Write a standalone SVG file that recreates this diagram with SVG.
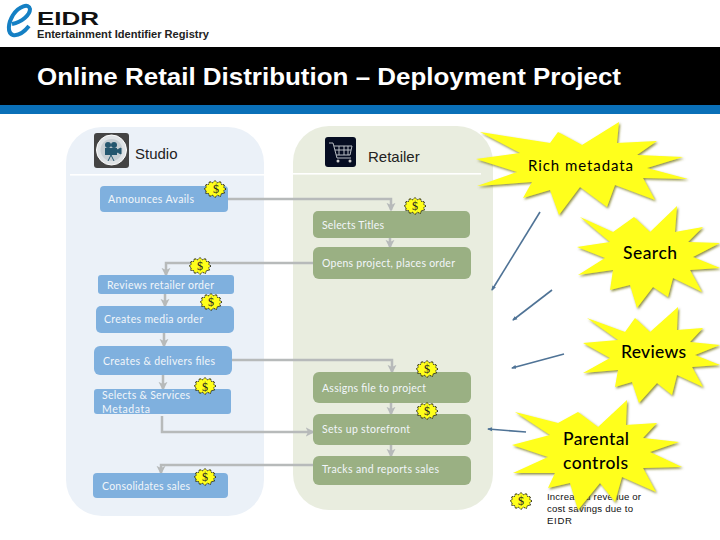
<svg xmlns="http://www.w3.org/2000/svg" width="720" height="540" viewBox="0 0 720 540">
<style>
.lbl{font-family:"Lato","Open Sans",sans-serif;font-size:10.5px;fill:#f2f6fa}
.hd{font-family:"Liberation Sans",Arial,sans-serif;font-size:15px;fill:#222}
.call{font-family:"Lato","Open Sans",sans-serif;fill:#000}
.blue{fill:#7fb0de}.green{fill:#9ab083}
.conn{fill:none;stroke:#b7baba;stroke-width:2.5}
.note{fill:none;stroke:#4f7396;stroke-width:1.6}
.burst{fill:#ffff1a;filter:url(#sh)}
.badge{fill:#ffff1a;stroke:#111;stroke-width:.9;stroke-dasharray:1.5 .6}
.dol{font-family:"Liberation Serif",serif;font-size:12px;fill:#222;text-anchor:middle}
.leg{font-family:"Liberation Sans",Arial,sans-serif;font-size:9.6px;fill:#111}
</style>
<defs>
<filter id="sh" x="-10%" y="-10%" width="120%" height="120%"><feDropShadow dx="1.2" dy="1.5" stdDeviation=".8" flood-color="#6d6d10" flood-opacity=".8"/></filter>
<marker id="ga" viewBox="0 0 10 10" refX="8" refY="5" markerWidth="3.600" markerHeight="3.800" orient="auto"><path d="M0 0L10 5L0 10L2.5 5Z" fill="#b7baba"/></marker>
<marker id="ba" viewBox="0 0 10 10" refX="8" refY="5" markerWidth="3.200" markerHeight="3.200" orient="auto"><path d="M0 1L10 5L0 9Z" fill="#4f7396"/></marker>
<polygon id="bd" points="11,0 8.7,1.7 9.5,4.2 6.4,4.6 5.5,7.4 2.3,6.3 0,8.5 -2.3,6.3 -5.5,7.4 -6.4,4.6 -9.5,4.2 -8.7,1.7 -11,0 -8.7,-1.7 -9.5,-4.2 -6.4,-4.6 -5.5,-7.4 -2.3,-6.3 0,-8.5 2.3,-6.3 5.5,-7.4 6.4,-4.6 9.5,-4.2 8.7,-1.7"/>
</defs>
<rect width="720" height="540" fill="#fff"/>
<g id="logo">
<path d="M12 24C22 22 30 15 30 9C29 3 19 6 13 15C8 23 7 33 13 35C19 36 25 31 29 26" fill="none" stroke="#1580c4" stroke-width="4"/>
<text x="37" y="25" font-family="Liberation Sans,sans-serif" font-weight="700" font-size="18" textLength="62" lengthAdjust="spacingAndGlyphs" fill="#111">EIDR</text>
<text x="37" y="38" font-family="Liberation Sans,sans-serif" font-size="10.5" font-weight="700" textLength="172" lengthAdjust="spacingAndGlyphs" fill="#222">Entertainment Identifier Registry</text>
</g>
<g id="header">
<rect y="47" width="720" height="58" fill="#000"/>
<rect y="105" width="720" height="9" fill="#0a70b8"/>
<text x="37" y="85" font-family="Liberation Sans,sans-serif" font-weight="700" font-size="24" textLength="584" lengthAdjust="spacingAndGlyphs" fill="#fff">Online Retail Distribution – Deployment Project</text>
</g>
<g id="studio-lane">
<rect x="66" y="127" width="198" height="389" rx="36" fill="#ebf1f8"/>
<rect x="70" y="174" width="194" height="1.6" fill="#fff"/>
<rect x="94" y="133" width="35" height="35" rx="3" fill="#444"/>
<circle cx="111.500" cy="150" r="15" fill="#dfe3e6" stroke="#fff"/>
<circle cx="111.500" cy="150" r="11" fill="#c7ced3"/>
<rect x="105" y="148" width="12" height="7" fill="#24566e"/>
<circle cx="108" cy="145" r="3" fill="#24566e"/><circle cx="114" cy="145" r="3" fill="#24566e"/>
<path d="M117 150L121 148V154L117 152ZM111 155L108 161M111 155L114 161" fill="#24566e" stroke="#24566e"/>
<text class="hd" x="135" y="159">Studio</text>
</g>
<g id="retailer-lane">
<rect x="293" y="126" width="200" height="384" rx="36" fill="#e9eddf"/>
<rect x="293" y="173" width="188" height="1.600" fill="#fff"/>
<rect x="325" y="137" width="31" height="30" rx="3" fill="#060d22"/>
<path d="M329 143H333L337 158H351M334 146H352L350 155H336M339 146V155M344 146V155M348 146V155M335 150H351" fill="none" stroke="#b9bec4" stroke-width="1"/>
<circle cx="338" cy="161" r="1.500" fill="#ccc"/><circle cx="350" cy="161" r="1.500" fill="#ccc"/>
<text class="hd" x="368" y="162">Retailer</text>
</g>
<g id="connectors">
<path class="conn" d="M228 199H391V210" marker-end="url(#ga)"/>
<path class="conn" d="M390 238V247" marker-end="url(#ga)"/>
<path class="conn" d="M313 263H166V275" marker-end="url(#ga)"/>
<path class="conn" d="M165 294V306" marker-end="url(#ga)"/>
<path class="conn" d="M164 333V346" marker-end="url(#ga)"/>
<path class="conn" d="M163 375V389" marker-end="url(#ga)"/>
<path class="conn" d="M232 360H392V372" marker-end="url(#ga)"/>
<path class="conn" d="M162 416V432H313" marker-end="url(#ga)"/>
<path class="conn" d="M391 403V414" marker-end="url(#ga)"/>
<path class="conn" d="M391 445V456" marker-end="url(#ga)"/>
<path class="conn" d="M313 465H161V473" marker-end="url(#ga)"/>
<path class="note" d="M540 212L492 290" marker-end="url(#ba)"/>
<path class="note" d="M552 290L513 320" marker-end="url(#ba)"/>
<path class="note" d="M564 354L512 368" marker-end="url(#ba)"/>
<path class="note" d="M526 432L488 429" marker-end="url(#ba)"/>
</g>
<g id="n-announces"><rect class="blue" x="100" y="186" width="128" height="26" rx="4"/><text class="lbl" x="108" y="203" textLength="86">Announces Avails</text></g>
<g id="n-selects-titles"><rect class="green" x="313" y="211" width="157" height="27" rx="5"/><text class="lbl" x="322" y="229" textLength="62">Selects Titles</text></g>
<g id="n-opens"><rect class="green" x="313" y="247" width="158" height="32" rx="6"/><text class="lbl" x="322" y="267" textLength="133">Opens project, places order</text></g>
<g id="n-reviews"><rect class="blue" x="98" y="275" width="136" height="19" rx="3"/><text class="lbl" x="107" y="289" textLength="107">Reviews retailer order</text></g>
<g id="n-creates-media"><rect class="blue" x="96" y="306" width="138" height="27" rx="5"/><text class="lbl" x="104" y="323" textLength="99">Creates media order</text></g>
<g id="n-creates-files"><rect class="blue" x="94" y="346" width="138" height="29" rx="6"/><text class="lbl" x="103" y="365" textLength="112">Creates &amp; delivers files</text></g>
<g id="n-selects-services"><rect class="blue" x="94" y="389" width="137" height="25" rx="3"/><text class="lbl" x="102" y="399" textLength="88">Selects &amp; Services</text><text class="lbl" x="102" y="413" textLength="48">Metadata</text></g>
<g id="n-consolidates"><rect class="blue" x="93" y="473" width="135" height="25" rx="4"/><text class="lbl" x="102" y="490" textLength="88">Consolidates sales</text></g>
<g id="n-assigns"><rect class="green" x="313" y="372" width="158" height="31" rx="6"/><text class="lbl" x="322" y="392" textLength="104">Assigns file to project</text></g>
<g id="n-storefront"><rect class="green" x="313" y="414" width="158" height="31" rx="6"/><text class="lbl" x="322" y="433" textLength="88">Sets up storefront</text></g>
<g id="n-tracks"><rect class="green" x="313" y="456" width="158" height="29" rx="6"/><text class="lbl" x="322" y="473" textLength="117">Tracks and reports sales</text></g>
<g id="badges">
<use href="#bd" class="badge" x="215" y="189"/><text class="dol" x="216" y="193">$</text>
<use href="#bd" class="badge" x="415" y="206"/><text class="dol" x="415" y="210">$</text>
<use href="#bd" class="badge" x="200" y="266"/><text class="dol" x="200" y="270">$</text>
<use href="#bd" class="badge" x="211" y="302"/><text class="dol" x="211" y="306">$</text>
<use href="#bd" class="badge" x="427" y="369"/><text class="dol" x="427" y="373">$</text>
<use href="#bd" class="badge" x="205" y="386"/><text class="dol" x="205" y="391">$</text>
<use href="#bd" class="badge" x="427" y="411"/><text class="dol" x="427" y="415">$</text>
<use href="#bd" class="badge" x="205" y="477"/><text class="dol" x="205" y="481">$</text>
<use href="#bd" class="badge" x="521" y="501"/><text class="dol" x="521" y="505">$</text>
</g>
<g id="legend">
<text class="leg" x="547" y="500" textLength="94">Increased revenue or</text>
<text class="leg" x="547" y="512" textLength="86">cost savings due to</text>
<text class="leg" x="547" y="524" textLength="25">EIDR</text>
</g>
<g id="n-rich">
<polygon class="burst" points="480,132 550,143 558,132 582,145 619,122 617,143 657,141 637,155 683,157 647,168 688,179 643,178 655,200 615,185 607,207 580,187 559,215 550,190 523,198 532,182 477,186 517,172 476,159 520,153"/>
<text class="call" x="528" y="171" font-size="15" textLength="105">Rich metadata</text>
</g>
<g id="n-search">
<polygon class="burst" points="580,217 613,232 634,217 650,232 677,206 675,232 703,227 688,242 720,243 693,257 720,268 690,270 702,292 673,278 668,297 653,287 637,308 630,285 610,290 613,270 578,275 605,258 577,247 610,242"/>
<text class="call" x="623" y="259" font-size="17.500" font-weight="500" textLength="54">Search</text>
</g>
<g id="n-reviews-call">
<polygon class="burst" points="587,318 625,332 635,318 650,332 678,307 677,330 703,328 690,342 720,345 695,355 720,365 692,367 703,387 677,375 672,395 657,383 639,403 632,382 615,387 618,370 583,373 610,358 583,343 618,340"/>
<text class="call" x="621" y="358" font-size="17.500" font-weight="500" textLength="65">Reviews</text>
</g>
<g id="n-parental">
<polygon class="burst" points="515,412 558,423 578,412 598,427 627,400 626,425 657,423 643,438 679,442 650,452 682,467 643,468 656,492 622,477 615,502 600,483 578,510 570,483 548,488 555,473 513,473 548,457 512,445 550,435"/>
<text class="call" x="563" y="445" font-size="17.500" font-weight="500" textLength="66">Parental</text>
<text class="call" x="563" y="469" font-size="17.500" font-weight="500" textLength="65">controls</text>
</g>
</svg>
